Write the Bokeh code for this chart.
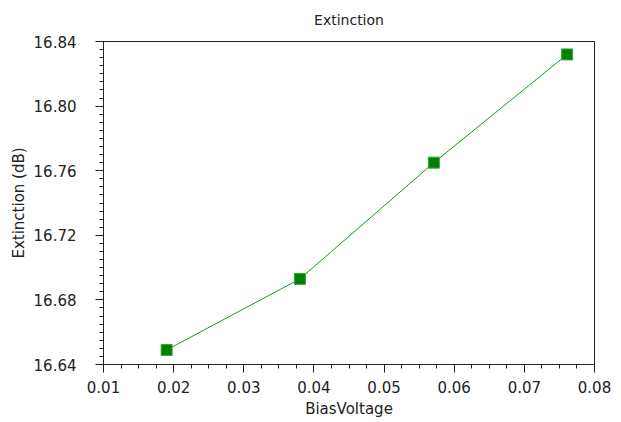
import numpy as np
from bokeh.plotting import figure
from bokeh.models import Range1d, FixedTicker, NumeralTickFormatter
from bokeh.embed import file_html
from bokeh.resources import INLINE

# Data
bias_voltage = [0.0190, 0.0380, 0.0571, 0.0761]
extinction_db = [16.649, 16.693, 16.765, 16.832]

x_major = [0.01, 0.02, 0.03, 0.04, 0.05, 0.06, 0.07, 0.08]
y_major = [16.64, 16.68, 16.72, 16.76, 16.80, 16.84]

FONT = "DejaVu Sans"

p = figure(width=613, height=420, output_backend="svg", toolbar_location=None,
           x_range=Range1d(0.01, 0.08), y_range=Range1d(16.64, 16.84),
           title="Extinction",
           min_border_left=103, min_border_right=19, min_border_top=41, min_border_bottom=54)

p.title.align = "center"
p.title.vertical_align = "top"
p.title.text_font = FONT
p.title.text_font_size = "14px"
p.title.text_font_style = "normal"
p.title.text_color = "#222222"
p.title.standoff = 23

p.outline_line_color = "#222222"
p.outline_line_width = 1
p.xgrid.visible = False
p.ygrid.visible = False
p.background_fill_color = "white"
p.border_fill_color = "white"

x_minor = [round(0.01 + i * 0.0025, 5) for i in range(29)]
y_minor = [round(16.64 + i * 0.005, 4) for i in range(41)]

p.xaxis.ticker = FixedTicker(ticks=x_major, minor_ticks=x_minor)
p.yaxis.ticker = FixedTicker(ticks=y_major, minor_ticks=y_minor)
p.xaxis.formatter = NumeralTickFormatter(format="0.00")
p.yaxis.formatter = NumeralTickFormatter(format="0.00")

p.xaxis.axis_label = "BiasVoltage"
p.yaxis.axis_label = "Extinction (dB)"

for ax in (p.xaxis[0], p.yaxis[0]):
    ax.axis_line_color = "#222222"
    ax.major_tick_line_color = "#222222"
    ax.minor_tick_line_color = "#222222"
    ax.major_tick_out = 8
    ax.major_tick_in = 0
    ax.minor_tick_out = 4
    ax.minor_tick_in = 0
    ax.major_label_text_font = FONT
    ax.major_label_text_font_size = "15px"
    ax.major_label_text_color = "#222222"
    ax.axis_label_text_font = FONT
    ax.axis_label_text_font_size = "15px"
    ax.axis_label_text_font_style = "normal"
    ax.axis_label_text_color = "#222222"

p.xaxis.major_label_standoff = 8
p.xaxis.axis_label_standoff = 4
p.yaxis.major_label_standoff = 19
p.yaxis.axis_label_standoff = 3

p.line(bias_voltage, extinction_db, line_color="#169b16", line_width=1)
p.scatter(bias_voltage, extinction_db, marker="square", size=11,
          fill_color="#008000", line_color="#3aa83a", line_width=1)

open("out.html", "w").write(file_html(p, INLINE))
